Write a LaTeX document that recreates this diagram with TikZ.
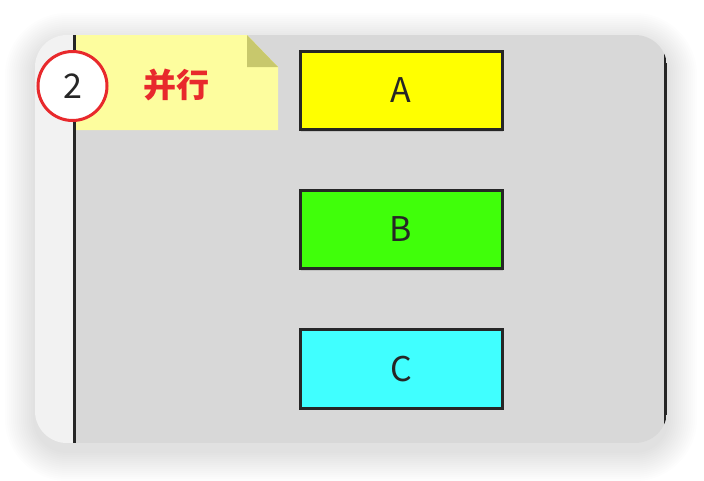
\documentclass[tikz,border=0pt]{standalone}
\usepackage{fontspec}
\setmainfont{Noto Sans CJK SC}
\usetikzlibrary{positioning,shadows}

\definecolor{txt}{HTML}{262626}
\definecolor{redline}{HTML}{E8292C}
\definecolor{panel}{HTML}{D8D8D8}
\definecolor{strip}{HTML}{F2F2F2}
\definecolor{notefill}{HTML}{FDFD9E}
\definecolor{notefold}{HTML}{C8C86C}
\definecolor{boxA}{HTML}{FFFF00}
\definecolor{boxB}{HTML}{40FF0A}
\definecolor{boxC}{HTML}{40FFFF}

\begin{document}
\begin{tikzpicture}[x=1pt,y=-1pt]
        \tikzstyle{every node} = [font=\fontsize{34}{34}\selectfont, text=txt]
        \tikzstyle{box} = [rectangle, draw=txt, line width=3pt, minimum width=202pt, minimum height=78.5pt,
                           drop shadow={shadow xshift=1pt, shadow yshift=-2pt, opacity=0.25}]
        \useasboundingbox (0,0) rectangle (704,480);

        % soft shadow round the panel
        \foreach \i in {1,...,15}
            \fill[black, opacity=0.009, rounded corners=32+2*\i]
                (35-2*\i,43-2*\i) rectangle (667+2*\i,451+2*\i);

        % panel
        \begin{scope}
            \clip[rounded corners=32] (35,35) rectangle (667,443);
            \fill[strip] (35,35) rectangle (74,443);
            \fill[panel] (74,35) rectangle (667,443);
            \draw[txt, line width=3pt] (665,35) -- (665,443);
        \end{scope}

        % sticky note
        \fill[notefill] (75,35) -- (247,35) -- (278,67) -- (278,130) -- (75,130) -- cycle;
        \fill[notefold] (247,35) -- (247,67) -- (278,67) -- cycle;
        \draw[txt, line width=3pt] (74,35) -- (74,443);
        \node[text=redline, font=\fontsize{33}{33}\selectfont\bfseries] (note) at (176.5,85) {并行};
        \node[circle, draw=redline, line width=3pt, fill=white, minimum size=69pt, inner sep=0pt] (num) at (72.5,86) {2};

        \foreach \name/\y/\col/\lbl in {a/90.5/boxA/A, b/229.5/boxB/B, c/369/boxC/C}
            \node[box, fill=\col] (\name) at (401,\y) {\lbl};
      \end{tikzpicture}
\end{document}
